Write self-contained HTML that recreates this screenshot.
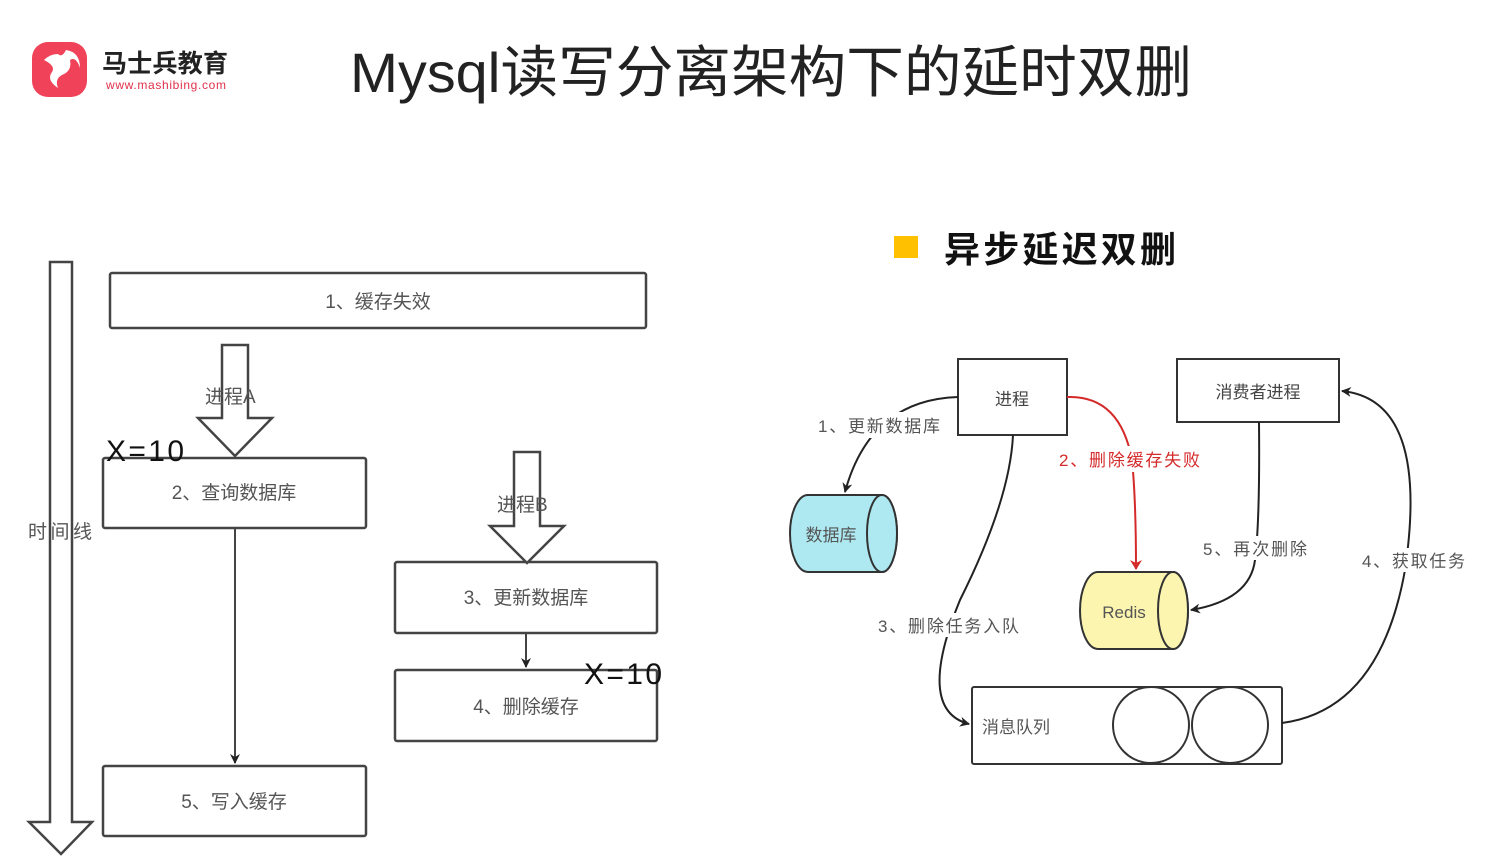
<!DOCTYPE html>
<html><head><meta charset="utf-8"><style>
html,body{margin:0;padding:0;background:#fff;}
body{width:1494px;height:856px;overflow:hidden;position:relative;font-family:"Liberation Sans","Noto Sans CJK SC",sans-serif;}
svg text{font-family:"Liberation Sans","Noto Sans CJK SC",sans-serif;}
</style></head><body>
<svg width="1494" height="856" viewBox="0 0 1494 856" xmlns="http://www.w3.org/2000/svg">
<defs>
<marker id="ab" markerWidth="10" markerHeight="10" refX="9" refY="5" orient="auto" markerUnits="userSpaceOnUse"><path d="M0,0 L10,5 L0,10 L3,5 z" fill="#222"/></marker>
<marker id="ar" markerWidth="10" markerHeight="12" refX="9" refY="6" orient="auto" markerUnits="userSpaceOnUse"><path d="M0,0 L10,6 L0,12 L3,6 z" fill="#d42a2a"/></marker>
</defs>
<!-- logo -->
<rect x="32" y="42" width="55" height="55" rx="16" fill="#f0435a"/>
<path d="M44,60 Q56,66 52,72 Q46,80 58,88 Q54,78 64,74 Q72,70 70,60 Q76,56 80,68 Q80,52 66,50 Q62,58 58,54 Q50,54 44,60z" fill="#fff"/>
<text x="102" y="72" font-size="25" font-weight="bold" fill="#222" textLength="126">马士兵教育</text>
<text x="106" y="89" font-size="12" fill="#e0304a" textLength="120">www.mashibing.com</text>
<text x="350" y="92" font-size="56" fill="#222" textLength="842" lengthAdjust="spacingAndGlyphs">Mysql读写分离架构下的延时双删</text>
<!-- left -->
<g stroke="#444" stroke-width="2.5" fill="#fff">
<path d="M50,262 H72 V822 H92 L61,854 L29,822 H50 Z"/>
<rect x="110" y="273" width="536" height="55" rx="2"/>
<rect x="103" y="458" width="263" height="70" rx="2"/>
<rect x="395" y="562" width="262" height="71" rx="2"/>
<rect x="395" y="670" width="262" height="71" rx="2"/>
<rect x="103" y="766" width="263" height="70" rx="2"/>
<path d="M222,345 H248 V418 H272 L235,456 L198,418 H222 Z"/>
<path d="M514,452 H540 V526 H564 L527,563 L490,526 H514 Z"/>
</g>
<g stroke="#444" stroke-width="2" fill="none">
<line x1="235" y1="528" x2="235" y2="763" marker-end="url(#ab)"/>
<line x1="526" y1="633" x2="526" y2="667" marker-end="url(#ab)"/>
</g>
<g font-size="19" fill="#555">
<text x="378" y="308" text-anchor="middle">1、缓存失效</text>
<text x="234" y="499" text-anchor="middle">2、查询数据库</text>
<text x="526" y="604" text-anchor="middle">3、更新数据库</text>
<text x="526" y="713" text-anchor="middle">4、删除缓存</text>
<text x="234" y="808" text-anchor="middle">5、写入缓存</text>
<text x="205" y="403">进程A</text>
<text x="497" y="511">进程B</text>
<text x="28" y="538" textLength="64">时间线</text>
</g>
<text x="106" y="461" font-size="30" fill="#111" textLength="78">X=10</text>
<text x="584" y="684" font-size="30" fill="#111" textLength="78">X=10</text>
<!-- right -->
<rect x="894" y="236" width="24" height="22" fill="#ffc000"/>
<text x="944" y="262" font-size="36" font-weight="bold" fill="#111" textLength="232">异步延迟双删</text>
<g stroke="#333" stroke-width="2" fill="#fff">
<rect x="958" y="359" width="109" height="76"/>
<rect x="1177" y="359" width="162" height="63"/>
<rect x="972" y="687" width="310" height="77" rx="2"/>
<circle cx="1151" cy="725" r="38"/>
<circle cx="1230" cy="725" r="38"/>
<path d="M808,495 H882 A15,38.5 0 0 1 882,572 H808 A18,38.5 0 0 1 808,495 Z" fill="#aee9f2"/>
<ellipse cx="882" cy="533.5" rx="15" ry="38.5" fill="#aee9f2"/>
<path d="M1098,572 H1173 A15,38.5 0 0 1 1173,649 H1098 A18,38.5 0 0 1 1098,572 Z" fill="#fbf5b0"/>
<ellipse cx="1173" cy="610.5" rx="15" ry="38.5" fill="#fbf5b0"/>
</g>
<g stroke="#222" stroke-width="2" fill="none">
<path d="M958,397 Q870,400 845,492" marker-end="url(#ab)"/>
<path d="M1013,435 Q1010,500 960,600 Q915,710 969,724" marker-end="url(#ab)"/>
<path d="M1259,422 Q1260,520 1255,560 Q1250,600 1191,610" marker-end="url(#ab)"/>
<path d="M1282,723 Q1380,710 1405,570 Q1430,400 1342,391" marker-end="url(#ab)"/>
</g>
<path d="M1067,397 Q1120,395 1132,460 Q1136,500 1136,569" stroke="#d42a2a" stroke-width="2" fill="none" marker-end="url(#ar)"/>
<g font-size="17" fill="#555">
<rect x="815" y="412" width="128" height="26" fill="#fff"/>
<text x="818" y="432" textLength="122">1、更新数据库</text>
<text x="1012" y="405" text-anchor="middle" fill="#444">进程</text>
<text x="1258" y="398" text-anchor="middle" fill="#444">消费者进程</text>
<rect x="1057" y="446" width="146" height="26" fill="#fff"/>
<text x="1059" y="466" fill="#d42a2a" textLength="141">2、删除缓存失败</text>
<text x="831" y="541" text-anchor="middle">数据库</text>
<text x="1124" y="618" text-anchor="middle">Redis</text>
<rect x="1200" y="536" width="110" height="24" fill="#fff"/>
<text x="1203" y="555" textLength="104">5、再次删除</text>
<rect x="1360" y="548" width="108" height="24" fill="#fff"/>
<text x="1362" y="567" textLength="103">4、获取任务</text>
<rect x="876" y="613" width="146" height="24" fill="#fff"/>
<text x="878" y="632" textLength="141">3、删除任务入队</text>
<text x="982" y="733">消息队列</text>
</g>
</svg>
</body></html>
